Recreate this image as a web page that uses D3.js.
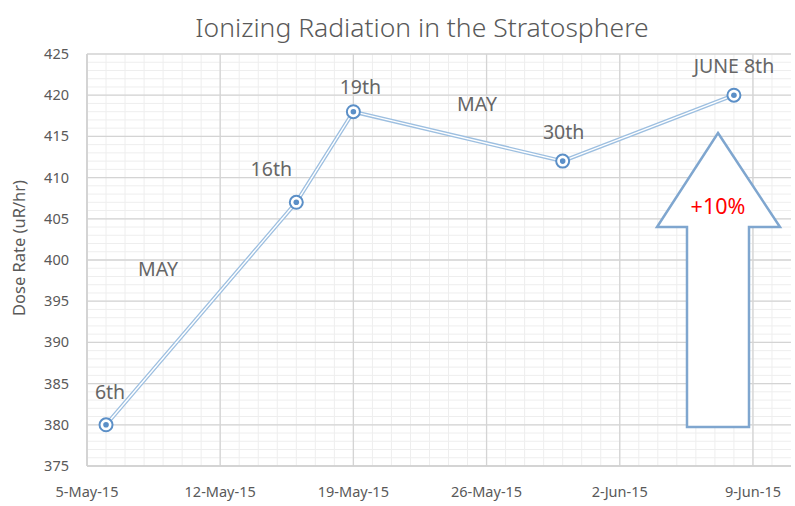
<!DOCTYPE html>
<html><head><meta charset="utf-8">
<script src="https://cdn.jsdelivr.net/npm/d3@7"></script>
<style>body{margin:0;background:#fff}text{font-family:"Noto Sans","Open Sans",sans-serif}</style>
</head><body><svg id="c" width="795" height="506"></svg>
<script>
// data points
var dates = ["2015-05-06", "2015-05-16", "2015-05-19", "2015-05-30", "2015-06-08"];
var doseRates = [380, 407, 418, 412, 420];
var pointLabels = ["6th", "16th", "19th", "30th", "JUNE 8th"];
var tickDates = ["2015-05-05", "2015-05-12", "2015-05-19", "2015-05-26", "2015-06-02", "2015-06-09"];

var parse = d3.timeParse("%Y-%m-%d");
var svg = d3.select("#c");
var start = parse("2015-05-05");
var end = d3.timeDay.offset(start, 37.6);
var x = d3.scaleTime().domain([start, end]).range([87, 791]);
var y = d3.scaleLinear().domain([375, 425]).range([466, 54]);

var g = svg.append("g");
// minor grid
g.selectAll(".vm").data(d3.timeDay.range(start, end)).enter().append("line")
  .attr("x1", d => x(d)).attr("x2", d => x(d)).attr("y1", y(375)).attr("y2", y(425))
  .attr("stroke", "#eeeeee").attr("stroke-width", 1);
g.selectAll(".hm").data(d3.range(375, 426)).enter().append("line")
  .attr("x1", 87).attr("x2", 791).attr("y1", d => y(d)).attr("y2", d => y(d))
  .attr("stroke", "#eeeeee").attr("stroke-width", 1);
// major grid
g.selectAll(".vM").data(tickDates.map(parse)).enter().append("line")
  .attr("x1", d => x(d)).attr("x2", d => x(d)).attr("y1", y(375)).attr("y2", y(425))
  .attr("stroke", "#d4d4d4").attr("stroke-width", 1.3);
g.selectAll(".hM").data(d3.range(375, 426, 5)).enter().append("line")
  .attr("x1", 87).attr("x2", 791).attr("y1", d => y(d)).attr("y2", d => y(d))
  .attr("stroke", "#d4d4d4").attr("stroke-width", 1.3);
g.append("line").attr("x1", 87).attr("x2", 87).attr("y1", y(375)).attr("y2", y(425)).attr("stroke", "#d0d0d0").attr("stroke-width", 1.5);
g.append("line").attr("x1", 87).attr("x2", 791).attr("y1", y(375)).attr("y2", y(375)).attr("stroke", "#d0d0d0").attr("stroke-width", 1.5);

// axis labels
svg.selectAll(".yt").data(d3.range(375, 426, 5)).enter().append("text")
  .attr("x", 69).attr("y", d => y(d) + 5).attr("text-anchor", "end")
  .attr("font-size", 14.5).attr("fill", "#595959").text(d => d);
var fmt = d3.timeFormat("%-d-%b-%y");
svg.selectAll(".xt").data(tickDates.map(parse)).enter().append("text")
  .attr("x", d => x(d)).attr("y", 497).attr("text-anchor", "middle")
  .attr("font-size", 14.5).attr("fill", "#595959").text(d => fmt(d));
svg.append("text").attr("transform", "translate(25,248) rotate(-90)").attr("text-anchor", "middle")
  .attr("font-size", 16.5).attr("fill", "#595959").text("Dose Rate (uR/hr)");
svg.append("text").attr("x", 422).attr("y", 37).attr("text-anchor", "middle")
  .attr("font-size", 26.5).attr("font-weight", 300).attr("fill", "#595959").text("Ionizing Radiation in the Stratosphere");

// line (double)
var pts = dates.map((d, i) => [x(parse(d)), y(doseRates[i])]);
var line = d3.line();
g.append("path").attr("d", line(pts)).attr("fill", "none").attr("stroke", "#9dbfe0").attr("stroke-width", 4);
g.append("path").attr("d", line(pts)).attr("fill", "none").attr("stroke", "#fff").attr("stroke-width", 1.4);
var m = g.selectAll(".pt").data(pts).enter().append("g");
m.append("circle").attr("cx", d => d[0]).attr("cy", d => d[1]).attr("r", 6.5)
  .attr("fill", "#fff").attr("stroke", "#5b8fc7").attr("stroke-width", 2);
m.append("circle").attr("cx", d => d[0]).attr("cy", d => d[1]).attr("r", 2.8).attr("fill", "#5b8fc7");

// point labels
var off = [[4, -26], [-25, -26], [7, -18], [1, -22], [0, -22]];
svg.selectAll(".pl").data(pts).enter().append("text")
  .attr("x", (d, i) => d[0] + off[i][0]).attr("y", (d, i) => d[1] + off[i][1])
  .attr("text-anchor", "middle").attr("font-size", 19.5).attr("fill", "#666").text((d, i) => pointLabels[i]);
svg.append("text").attr("x", 158).attr("y", 276).attr("text-anchor", "middle").attr("font-size", 19.5).attr("fill", "#666").text("MAY");
svg.append("text").attr("x", 477).attr("y", 111).attr("text-anchor", "middle").attr("font-size", 19.5).attr("fill", "#666").text("MAY");

// arrow
var arrow = [[718, 133], [780, 227], [749, 227], [749, 427], [687, 427], [687, 227], [657, 227]];
svg.append("path").attr("d", d3.line()(arrow) + "Z").attr("fill", "#fff").attr("stroke", "#7fa6cf").attr("stroke-width", 2.5);
svg.append("text").attr("x", 718).attr("y", 214).attr("text-anchor", "middle").attr("font-size", 21.5).attr("fill", "#ff0000").text("+10%");
</script></body></html>
